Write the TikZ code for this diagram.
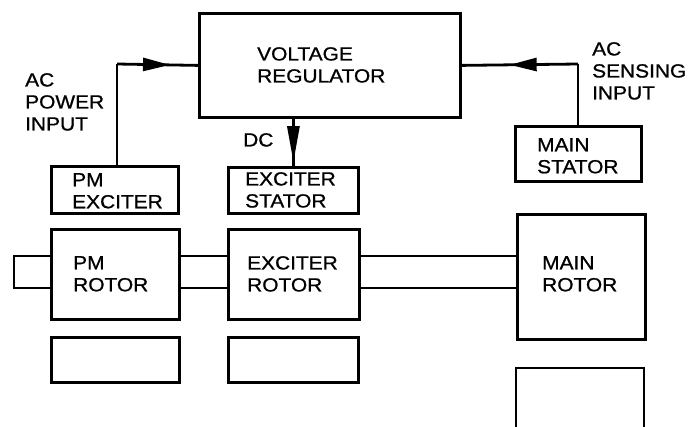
\documentclass[tikz,border=0pt]{standalone}
\usepackage{fontspec}
\setmainfont{Liberation Sans}[FakeStretch=1.1,FakeBold=0.9]
\usetikzlibrary{arrows.meta,decorations.markings}
\tikzset{
  blk/.style={draw=black, line width=2.8pt, rectangle, inner sep=0pt, anchor=north west},
  lbl/.style={inner sep=0pt, anchor=north west, align=left, font=\fontsize{19}{22}\selectfont},
  wire/.style={draw=black, line width=2.8pt},
  arrowat/.style={postaction={decorate}, decoration={markings, mark=at position #1 with {\arrow{Triangle[length=27pt,width=13pt]}}}},
  arrowatlong/.style={postaction={decorate}, decoration={markings, mark=at position #1 with {\arrow{Triangle[length=36pt,width=12pt]}}}}
}
\begin{document}
\begin{tikzpicture}[x=1pt,y=-1pt]
\useasboundingbox (0,0) rectangle (688,426);
% boxes
\node[blk, minimum width=261pt, minimum height=104pt] (vr) at (198,12) {};
\node[blk, minimum width=127pt, minimum height=47pt] (pmx) at (50,165) {};
\node[blk, minimum width=130pt, minimum height=46pt] (exs) at (227,166) {};
\node[blk, minimum width=126pt, minimum height=55pt] (mst) at (514,125) {};
\node[blk, minimum width=128pt, minimum height=90pt] (pmr) at (50,228) {};
\node[blk, minimum width=131pt, minimum height=90pt] (exr) at (227,228) {};
\node[blk, minimum width=128pt, minimum height=125pt] (mr) at (516,213) {};
\node[blk, minimum width=128pt, minimum height=45pt] (low1) at (50,336) {};
\node[blk, minimum width=130pt, minimum height=45pt] (low2) at (227,336) {};
\draw[wire, line join=miter] (516,430) |- (644,368) -- (644,430);
% labels
\node[lbl] (vrt) at (257,47) {VOLTAGE\\REGULATOR};
\node[lbl] (acp) at (25,73) {AC\\POWER\\INPUT};
\node[lbl] (acs) at (592,42) {AC\\SENSING\\INPUT};
\node[lbl] (dc) at (243,133) {DC};
\node[lbl] (pmxt) at (72,173) {PM\\EXCITER};
\node[lbl] (exst) at (245,172) {EXCITER\\STATOR};
\node[lbl] (mstt) at (537,138) {MAIN\\STATOR};
\node[lbl] (pmrt) at (73,256) {PM\\ROTOR};
\node[lbl] (exrt) at (247,256) {EXCITER\\ROTOR};
\node[lbl] (mrt) at (542,256) {MAIN\\ROTOR};
% connectors
\coordinate (cL) at (117,64);
\coordinate (cR) at (578,64);
\draw[wire] (pmx.north -| cL) -- (cL);
\draw[wire, arrowat=0.654] (cL) -- (vr.west);
\draw[wire] (mst.north -| cR) -- (cR);
\draw[wire, arrowat=0.588] (cR) -- (vr.east);
\draw[wire, arrowatlong=0.92] (vr.south -| exs.north) -- (exs.north);
% shafts
\coordinate (sA) at (0,256);
\coordinate (sB) at (0,288);
\draw[wire] (pmr.east |- sA) -- (exr.west |- sA);
\draw[wire] (pmr.east |- sB) -- (exr.west |- sB);
\draw[wire] (exr.east |- sA) -- (mr.west |- sA);
\draw[wire] (exr.east |- sB) -- (mr.west |- sB);
\draw[wire, line join=miter] (pmr.west |- sA) -| (14,288) -- (pmr.west |- sB);
\end{tikzpicture}
\end{document}
